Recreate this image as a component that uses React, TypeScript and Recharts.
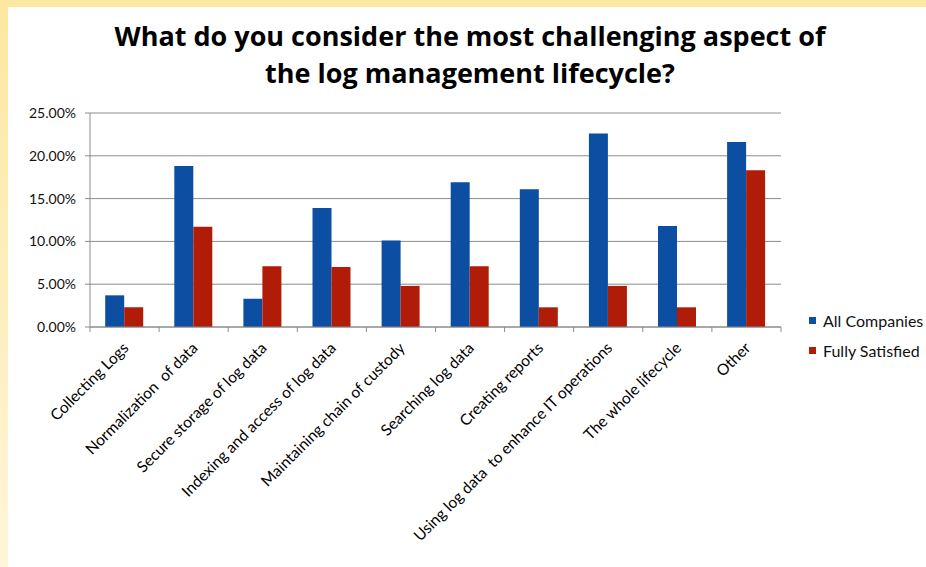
import React from "react";
import { BarChart, Bar, XAxis, YAxis, CartesianGrid } from "recharts";

const categories = [
  "Collecting Logs",
  "Normalization  of data",
  "Secure storage of log data",
  "Indexing and access of log data",
  "Maintaining chain of custody",
  "Searching log data",
  "Creating reports",
  "Using log data  to enhance IT operations",
  "The whole lifecycle",
  "Other",
];
const allCompanies = [3.7, 18.8, 3.3, 13.9, 10.1, 16.9, 16.1, 22.6, 11.8, 21.6];
const fullySatisfied = [2.3, 11.7, 7.1, 7.0, 4.8, 7.1, 2.3, 4.8, 2.3, 18.3];
const yTicks = [0, 5, 10, 15, 20, 25];

const data = categories.map((name, i) => ({
  name,
  all: allCompanies[i],
  sat: fullySatisfied[i],
}));

const W = 926;
const H = 567;
const PLOT_LEFT = 90;
const PLOT_RIGHT = 781;
const PLOT_TOP = 113;
const PLOT_BOTTOM = 327;
const HALF_BAND = (PLOT_RIGHT - PLOT_LEFT) / categories.length / 2;

const BLUE = "#0b4ea2";
const RED = "#b01c08";
const GRID = "#8c8c8c";

function CatTick(props: any) {
  const { x, payload, index } = props;
  const last = index === categories.length - 1;
  return (
    <g>
      <line x1={x - HALF_BAND} x2={x - HALF_BAND} y1={PLOT_BOTTOM} y2={PLOT_BOTTOM + 5} stroke={GRID} />
      {last && (
        <line x1={x + HALF_BAND} x2={x + HALF_BAND} y1={PLOT_BOTTOM} y2={PLOT_BOTTOM + 5} stroke={GRID} />
      )}
      <g transform={`translate(${x + 5},${PLOT_BOTTOM + 22})`}>
        <text
          transform="rotate(-45)"
          textAnchor="end"
          fill="#000"
          fontSize={15.5}
          fontFamily="Lato"
          style={{ whiteSpace: "pre" }}
        >
          {payload.value}
        </text>
      </g>
    </g>
  );
}

function LegendBox() {
  const items = [
    { label: "All Companies", color: BLUE },
    { label: "Fully Satisfied", color: RED },
  ];
  return (
    <div style={{ position: "absolute", left: 809, top: 305, fontFamily: "Lato", fontSize: 16, color: "#111" }}>
      {items.map((it) => (
        <div key={it.label} style={{ display: "flex", alignItems: "center", height: 30 }}>
          <span style={{ width: 7, height: 7, background: it.color, marginRight: 7, display: "inline-block" }} />
          <span style={{ whiteSpace: "nowrap" }}>{it.label}</span>
        </div>
      ))}
    </div>
  );
}

export default function App() {
  return (
    <div
      style={{
        position: "fixed",
        left: 0,
        top: 0,
        width: W,
        height: H,
        background: "linear-gradient(to bottom, #fde7a1, #fff5d8)",
        overflow: "hidden",
      }}
    >
      <div style={{ position: "absolute", left: 8, top: 7, width: W - 8, height: H - 7, background: "#fff" }} />
      <div
        style={{
          position: "absolute",
          left: 0,
          top: 17,
          width: 940,
          textAlign: "center",
          fontFamily: "Open Sans",
          fontWeight: 700,
          fontSize: 27,
          lineHeight: "37px",
          color: "#000",
        }}
      >
        What do you consider the most challenging aspect of
        <br />
        the log management lifecycle?
      </div>
      <div style={{ position: "absolute", left: 0, top: 0 }}>
        <BarChart
          width={W}
          height={H}
          data={data}
          margin={{ top: PLOT_TOP, right: W - PLOT_RIGHT, bottom: 10, left: 0 }}
          barCategoryGap="22%"
          barGap={0}
        >
          <CartesianGrid vertical={false} stroke={GRID} />
          <XAxis
            dataKey="name"
            interval={0}
            height={H - PLOT_BOTTOM - 10}
            axisLine={{ stroke: GRID }}
            tickLine={false}
            tick={<CatTick />}
          />
          <YAxis
            width={PLOT_LEFT}
            domain={[0, 25]}
            ticks={yTicks}
            axisLine={{ stroke: GRID }}
            tickLine={{ stroke: GRID }}
            tickSize={5}
            tickMargin={9}
            tickFormatter={(v: number) => `${v.toFixed(2)}%`}
            tick={{ fill: "#111", fontSize: 14, fontFamily: "Lato" }}
          />
          <Bar dataKey="all" name="All Companies" fill={BLUE} isAnimationActive={false} />
          <Bar dataKey="sat" name="Fully Satisfied" fill={RED} isAnimationActive={false} />
        </BarChart>
      </div>
      <LegendBox />
    </div>
  );
}
